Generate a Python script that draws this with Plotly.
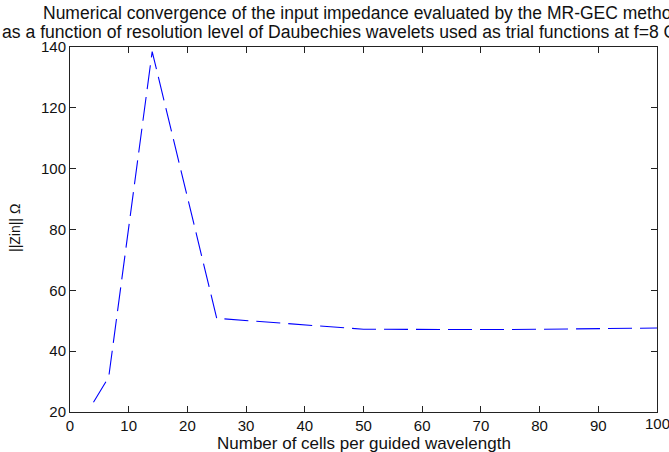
import plotly.graph_objects as go

# Number of cells per guided wavelength and the resulting input impedance magnitude
cells_per_wavelength = [4, 6.6, 14, 25, 50, 75, 100]
zin_magnitude = [23.2, 31.5, 138.5, 50.8, 47.2, 47.1, 47.6]

x_ticks = [0, 10, 20, 30, 40, 50, 60, 70, 80, 90, 100]
y_ticks = [20, 40, 60, 80, 100, 120, 140]

title_lines = [
    "Numerical convergence of the input impedance evaluated by the MR-GEC method",
    "as a function of resolution level of Daubechies wavelets used as trial functions at f=8 GHz",
]
x_label = "Number of cells per guided wavelength"
y_label = "||Zin|| Ω"

FONT = "Liberation Sans, Arial, Helvetica, sans-serif"
INK = "#111111"

fig = go.Figure()
fig.add_trace(go.Scatter(
    x=cells_per_wavelength,
    y=zin_magnitude,
    mode="lines",
    line=dict(color="#0000ff", width=1.1, dash="24px,8px"),
    showlegend=False,
))

axis_common = dict(
    showgrid=False,
    zeroline=False,
    showline=True,
    linecolor="#222222",
    linewidth=1,
    mirror="ticks",
    ticks="inside",
    ticklen=6,
    tickcolor="#222222",
    tickfont=dict(family=FONT, size=15, color=INK),
    automargin=False,
)

# The last x label sits on the page edge, so it is drawn as an annotation
x_ticktext = [str(v) for v in x_ticks[:-1]] + [""]
fig.update_xaxes(range=[0, 100], tickvals=x_ticks, ticktext=x_ticktext, **axis_common)
fig.update_yaxes(range=[20, 140], tickvals=y_ticks, **axis_common)

# Plot box spans 70..657 px horizontally and 47..412 px vertically
PLOT_H = 365.0
PLOT_W = 587.0

annotations = [
    dict(text=title_lines[0], x=(41 - 70) / PLOT_W, xanchor="left",
         y=1 + (47 - 13.5) / PLOT_H, font=dict(family=FONT, size=17.5, color=INK)),
    dict(text=title_lines[1], x=(0 - 70) / PLOT_W, xanchor="left",
         y=1 + (47 - 31.5) / PLOT_H, font=dict(family=FONT, size=17.6, color=INK)),
    dict(text=x_label, x=0.5, xanchor="center", y=-(443 - 412) / PLOT_H,
         font=dict(family=FONT, size=17, color=INK)),
    dict(text=y_label, x=-(70 - 15) / PLOT_W, xanchor="center", y=(412 - 228) / PLOT_H,
         textangle=-90, font=dict(family=FONT, size=14, color=INK)),
    dict(text=str(x_ticks[-1]), x=x_ticks[-1], xref="x", xanchor="center",
         y=-(423 - 412) / PLOT_H, font=dict(family=FONT, size=15, color=INK)),
]
for a in annotations:
    a.setdefault("xref", "paper")
    a.update(yref="paper", yanchor="middle", showarrow=False)

fig.update_layout(
    width=669,
    height=452,
    margin=dict(l=70, r=12, t=47, b=40),
    paper_bgcolor="white",
    plot_bgcolor="white",
    annotations=annotations,
)

fig.write_html("out.html")
